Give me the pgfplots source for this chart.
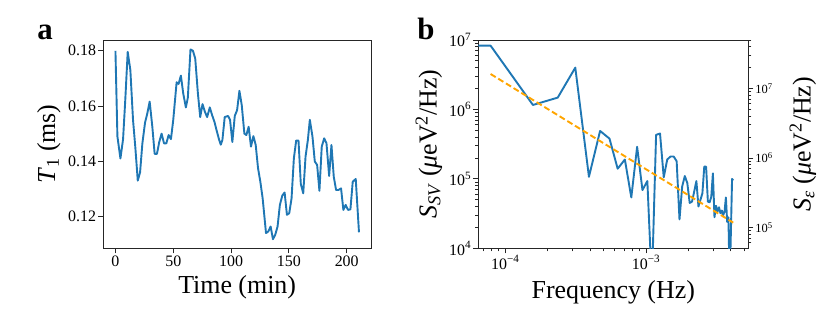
\documentclass[border=0pt]{standalone}
\usepackage{fontspec}
\setmainfont{Liberation Serif}
\usepackage{pgfplots}
\pgfplotsset{compat=1.18}
\definecolor{mplblue}{HTML}{1F77B4}
\definecolor{mplorange}{HTML}{FFA500}
\begin{document}
\begin{tikzpicture}
\path[use as bounding box] (0,0) rectangle (830bp,332bp);
\pgfplotsset{
  every axis/.append style={
    scale only axis, anchor=south west,
    axis line style={line width=0.9bp, black!85},
    every tick/.style={line width=0.9bp, black!85},
    major tick length=5bp, minor tick length=3bp,
    tick align=outside,
    tick label style={font=\fontsize{16}{18}\selectfont, inner sep=2bp},
    label style={font=\fontsize{26}{29}\selectfont},
    /pgf/number format/assume math mode=true,
  }
}
% ---------------- panel a ----------------
\begin{axis}[
  at={(103.3bp,83.7bp)}, width=267.7bp, height=208.3bp,
  xmin=-10.5, xmax=221, ymin=0.1085, ymax=0.1839,
  xtick={0,50,100,150,200}, ytick={0.12,0.14,0.16,0.18},
  yticklabel style={/pgf/number format/fixed, /pgf/number format/precision=2, /pgf/number format/fixed zerofill},
  scaled y ticks=false,
  tick pos=left,
  xlabel={Time (min)},
  xlabel style={at={(axis description cs:0.5,-0.216)}, anchor=base},
  ylabel={\textit{T}\textsubscript{1} (ms)},
  ylabel style={at={(axis description cs:-0.203,0.5)}, anchor=center},
]
\addplot[mplblue, line width=1.9bp, line join=round] coordinates {
(0,0.180)(1.7,0.149)(4.3,0.141)(6.6,0.148)(8.6,0.163)(10.6,0.1796)(12.9,0.173)(15.2,0.155)(17.2,0.145)(19.3,0.133)(21.3,0.136)(23.3,0.1465)(25.6,0.154)(27.6,0.1574)(29.6,0.1616)(31.9,0.1525)(33.9,0.1427)(35.9,0.1427)(37.9,0.147)(39.9,0.150)(42,0.1465)(44,0.1465)(46,0.1495)(48,0.148)(50,0.155)(52.9,0.1686)(54.6,0.168)(56.6,0.171)(58.6,0.1646)(60.9,0.1595)(62.6,0.163)(64.9,0.1805)(67,0.180)(69,0.1772)(71.3,0.1646)(73.3,0.156)(75.3,0.1607)(77.3,0.158)(79.3,0.156)(81.6,0.1595)(83.6,0.1567)(85.6,0.1543)(87.6,0.151)(89.7,0.1477)(91.1,0.146)(92.5,0.1477)(94.5,0.156)(97.4,0.1564)(99.1,0.155)(101.1,0.147)(103.2,0.1564)(105.2,0.1585)(107.2,0.1655)(109.2,0.1604)(111.5,0.150)(113.2,0.1495)(115.2,0.1525)(117.2,0.1453)(119.3,0.1491)(121.3,0.1459)(123.3,0.1375)(125.3,0.1326)(127.3,0.1266)(130.2,0.114)(132.2,0.1146)(134.2,0.1164)(136.2,0.1118)(138.2,0.1134)(140.2,0.1164)(142.2,0.1242)(144.3,0.1276)(146.3,0.1287)(148.3,0.1206)(150.3,0.1212)(152.3,0.1266)(154.3,0.1411)(156.3,0.1475)(158.3,0.1475)(160.3,0.1318)(162.4,0.1284)(164.4,0.1417)(166.4,0.1477)(168.1,0.155)(170.4,0.1489)(172.4,0.1399)(174.4,0.1387)(176.4,0.1293)(178.4,0.1453)(180.5,0.1483)(182.5,0.1465)(184.8,0.1347)(186.8,0.1459)(188.8,0.1344)(190.8,0.1296)(192.8,0.1296)(195.1,0.1302)(197.1,0.1224)(199.1,0.1242)(201.1,0.1224)(203.2,0.1226)(205.2,0.1326)(207.8,0.1336)(210.6,0.1143)
};
\end{axis}
% ---------------- panel b (right axis) ----------------
\begin{axis}[
  at={(478.3bp,83.7bp)}, width=270bp, height=208.3bp,
  xmode=log, xmin=6.43e-5, xmax=5.33e-3,
  hide x axis, axis y line*=right,
  ymode=log, ymin=5e4, ymax=5e7,
  ytick={1e5,1e6,1e7},
  yticklabels={10\textsuperscript{5},10\textsuperscript{6},10\textsuperscript{7}},
  minor ytick={6e4,7e4,8e4,9e4,2e5,3e5,4e5,5e5,6e5,7e5,8e5,9e5,2e6,3e6,4e6,5e6,6e6,7e6,8e6,9e6,2e7,3e7,4e7,5e7},
  yticklabel style={font=\fontsize{12.5}{14}\selectfont},
  ylabel={\textit{S}\textsubscript{\textit{ε}} (\textit{μ}eV\textsuperscript{2}/Hz)},
  ylabel style={at={(axis description cs:1.2026,0.5)}, anchor=center},
]
\end{axis}
% ---------------- panel b (main) ----------------
\begin{axis}[
  at={(478.3bp,83.7bp)}, width=270bp, height=208.3bp,
  xmode=log, ymode=log,
  xmin=6.43e-5, xmax=5.33e-3, ymin=1e4, ymax=1e7,
  xtick={1e-4,1e-3},
  xticklabels={10\textsuperscript{−4},10\textsuperscript{−3}},
  minor xtick={7e-5,8e-5,9e-5,2e-4,3e-4,4e-4,5e-4,6e-4,7e-4,8e-4,9e-4,2e-3,3e-3,4e-3,5e-3},
  ytick={1e4,1e5,1e6,1e7},
  yticklabels={10\textsuperscript{4},10\textsuperscript{5},10\textsuperscript{6},10\textsuperscript{7}},
  minor ytick={2e4,3e4,4e4,5e4,6e4,7e4,8e4,9e4,2e5,3e5,4e5,5e5,6e5,7e5,8e5,9e5,2e6,3e6,4e6,5e6,6e6,7e6,8e6,9e6},
  tick pos=left,
  xlabel={Frequency (Hz)},
  xlabel style={at={(axis description cs:0.5,-0.240)}, anchor=base},
  ylabel={\textit{S}\textsubscript{\textit{SV}} (\textit{μ}eV\textsuperscript{2}/Hz)},
  ylabel style={at={(axis description cs:-0.183,0.5)}, anchor=center},
]
\addplot[mplblue, line width=1.9bp, line join=round] coordinates {
(6.43e-5,8.3e6)(7.86e-5,8.3e6)(1.572e-4,1.16e6)(2.358e-4,1.48e6)(3.144e-4,4.0e6)(3.93e-4,1.07e5)(4.716e-4,4.9e5)(5.502e-4,3.8e5)(6.288e-4,1.4e5)(7.074e-4,1.9e5)(7.86e-4,5.4e4)(8.646e-4,2.9e5)(9.432e-4,6.9e4)(1.0218e-3,9.3e4)(1.1004e-3,3e3)(1.179e-3,4.3e5)(1.2576e-3,4.5e5)(1.3362e-3,1.05e5)(1.4148e-3,1.9e5)(1.4934e-3,2.1e5)(1.572e-3,2.1e5)(1.6506e-3,1.8e5)(1.7292e-3,2.6e4)(1.8078e-3,7.8e4)(1.8864e-3,1.1e5)(1.965e-3,8.7e4)(2.0436e-3,4.5e4)(2.1222e-3,4.7e4)(2.2008e-3,6.6e4)(2.2794e-3,9.3e4)(2.358e-3,4.0e4)(2.4366e-3,5.0e4)(2.5152e-3,6.2e4)(2.5938e-3,1.5e5)(2.6724e-3,1.5e5)(2.751e-3,4.7e4)(2.8296e-3,4.6e4)(2.9082e-3,5.5e4)(2.9868e-3,1.2e5)(3.0654e-3,2.8e4)(3.144e-3,4.1e4)(3.2226e-3,3.4e4)(3.3012e-3,3.9e4)(3.3798e-3,3.2e4)(3.4584e-3,3.5e4)(3.537e-3,3.0e4)(3.6156e-3,3.4e4)(3.6942e-3,5.4e4)(3.7728e-3,2.4e4)(3.8514e-3,2.8e4)(3.93e-3,3e3)(4.0086e-3,1.7e4)(4.0872e-3,1.0e5)(4.1658e-3,9.5e4)
};
\addplot[mplorange, line width=1.9bp, dash pattern=on 6bp off 3bp] coordinates {
(7.86e-5,3.24e6)(4.1658e-3,2.34e4)
};
\end{axis}
\node[font=\fontsize{31}{34}\selectfont\bfseries, anchor=base] at (45bp,292bp) {a};
\node[font=\fontsize{31}{34}\selectfont\bfseries, anchor=base] at (426bp,292bp) {b};
\end{tikzpicture}
\end{document}
